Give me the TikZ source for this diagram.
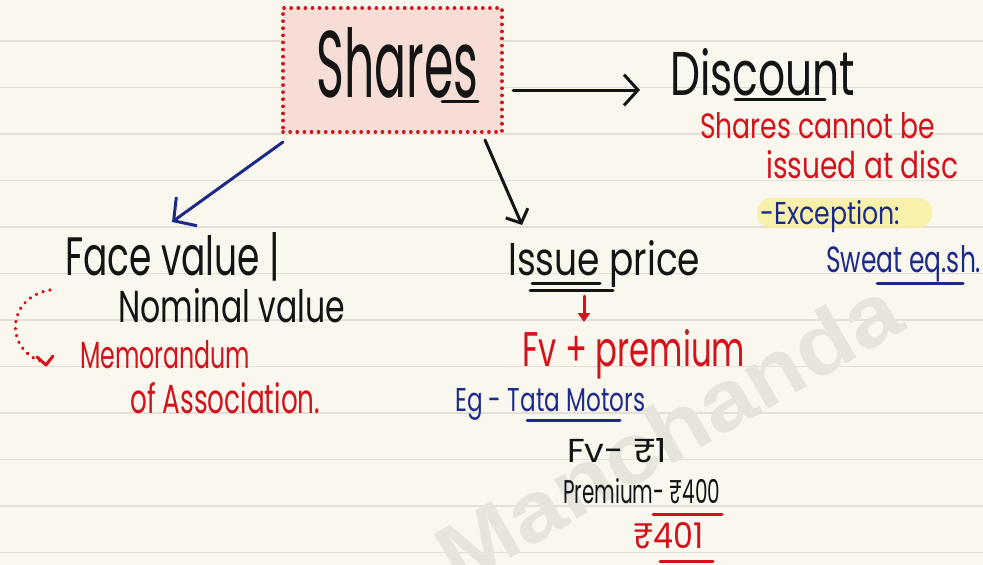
\documentclass[tikz,border=0pt]{standalone}
\usepackage{fontspec}
\setmainfont{Poppins}
\newfontfamily\wmfont{Liberation Sans}
\usepackage{graphicx}
\usetikzlibrary{arrows.meta}
\definecolor{paper}{HTML}{FAF8EE}
\definecolor{rule}{HTML}{E2E0D6}
\definecolor{ink}{HTML}{141414}
\definecolor{inkred}{HTML}{D3121B}
\definecolor{inkblue}{HTML}{1C2A8A}
\definecolor{boxfill}{HTML}{F6DDD6}
\definecolor{hilite}{HTML}{F7F09A}
\definecolor{wm}{HTML}{E7E4DC}
\newcommand{\fitbox}[3]{\resizebox{#1pt}{#2pt}{#3}}
\tikzset{
  txt/.style={inner sep=0pt, anchor=base west},
  pen/.style={line width=3pt, line cap=round, line join=round},
  barb/.style={-{Straight Barb[length=#1pt, width=2.2*#1pt]}},
}
\begin{document}
\begin{tikzpicture}[x=1pt,y=-1pt]
\fill[paper] (0,0) rectangle (983,565);
\useasboundingbox (0,0) rectangle (983,565);
\foreach \k in {0,...,11} \draw[rule, line width=1.6pt] (0,{41+46.5*\k}) -- (983,{41+46.5*\k});
% watermark
\node[rotate=30, text=wm, inner sep=0pt] (wmark) at (668,432) {\wmfont\bfseries\resizebox{520pt}{62pt}{Manchanda}};
% Shares box
\node[draw=inkred, fill=boxfill, line width=3.6pt, dash pattern=on 0.1pt off 7pt, line cap=round,
      minimum width=219pt, minimum height=124pt, inner sep=0pt] (box) at (392.5,70) {};
\node[txt, text=ink] (shares) at (316,97) {\fitbox{162}{70}{Shares}};
\draw[ink, pen] (442,101) -- (478,101);
% Discount
\node[txt, text=ink] (disc) at (670,95) {\fitbox{185}{47}{Discount}};
\draw[ink, pen] (735,99) -- (825,99);
\coordinate (a1s) at (513,90);
\coordinate (a1e) at (640,90);
\draw[ink, pen, barb=14] (a1s) -- (a1e);
\node[txt, text=inkred] (nodisc1) at (700,138) {\fitbox{235}{26}{Shares cannot be}};
\node[txt, text=inkred] (nodisc2) at (766,178) {\fitbox{192}{28}{issued at disc}};
\fill[hilite, opacity=0.8, rounded corners=14pt] (757,198) rectangle (932,228);
\node[txt, text=inkblue] (exc) at (760,224) {\fitbox{140}{24}{-Exception:}};
\node[txt, text=inkblue] (sweat) at (826,272) {\fitbox{155}{27}{Sweat eq.sh.}};
\draw[inkblue, pen] (877,283) -- (963,283);
% arrows from shares
\coordinate (a2s) at (283,142);
\coordinate (a2e) at (172,222);
\draw[inkblue, pen, barb=16] (a2s) -- (a2e);
\coordinate (a3s) at (485,140);
\coordinate (a3e) at (522,225);
\draw[ink, pen, barb=11] (a3s) -- (a3e);
% Face value
\node[txt, text=ink] (face) at (65,275) {\fitbox{215}{43}{Face value |}};
\node[txt, text=ink] (nominal) at (118,322) {\fitbox{227}{34}{Nominal value}};
\coordinate (d1) at (50,290);
\coordinate (d2) at (44,362);
\draw[inkred, line width=3.6pt, dash pattern=on 0.1pt off 7pt, line cap=round] (d1) .. controls (5,298) and (5,352) .. (d2);
\draw[inkred, line width=3pt, line cap=round, line join=round] (37,357) -- (46,365) -- (53,356);
\node[txt, text=inkred] (memo) at (80,368) {\fitbox{170}{28}{Memorandum}};
\node[txt, text=inkred] (assoc) at (130,413) {\fitbox{190}{31}{of Association.}};
% Issue price
\node[txt, text=ink] (issue) at (508,275) {\fitbox{192}{35}{Issue price}};
\draw[ink, pen] (532,283) -- (600,283);
\draw[ink, pen] (530,290) -- (613,290);
\coordinate (a4s) at (584,296);
\coordinate (a4e) at (584,322);
\draw[inkred, pen, -{Triangle[length=9pt, width=12pt]}] (a4s) -- (a4e);
\node[txt, text=inkred] (fvp) at (522,366) {\fitbox{223}{37}{Fv + premium}};
\node[txt, text=inkblue] (eg) at (455,411) {\fitbox{190}{23}{Eg - Tata Motors}};
\draw[inkblue, pen] (527,420) -- (620,420);
\node[txt, text=ink] (fv1) at (567,462) {\fitbox{100}{24}{Fv- ₹1}};
\node[txt, text=ink] (prem) at (563,503) {\fitbox{157}{25}{Premium- ₹400}};
\draw[inkred, pen] (653,514) -- (722,514);
\node[txt, text=inkred] (tot) at (633,548) {\fitbox{70}{26}{₹401}};
\draw[inkred, pen] (660,561) -- (713,561);
\end{tikzpicture}
\end{document}
